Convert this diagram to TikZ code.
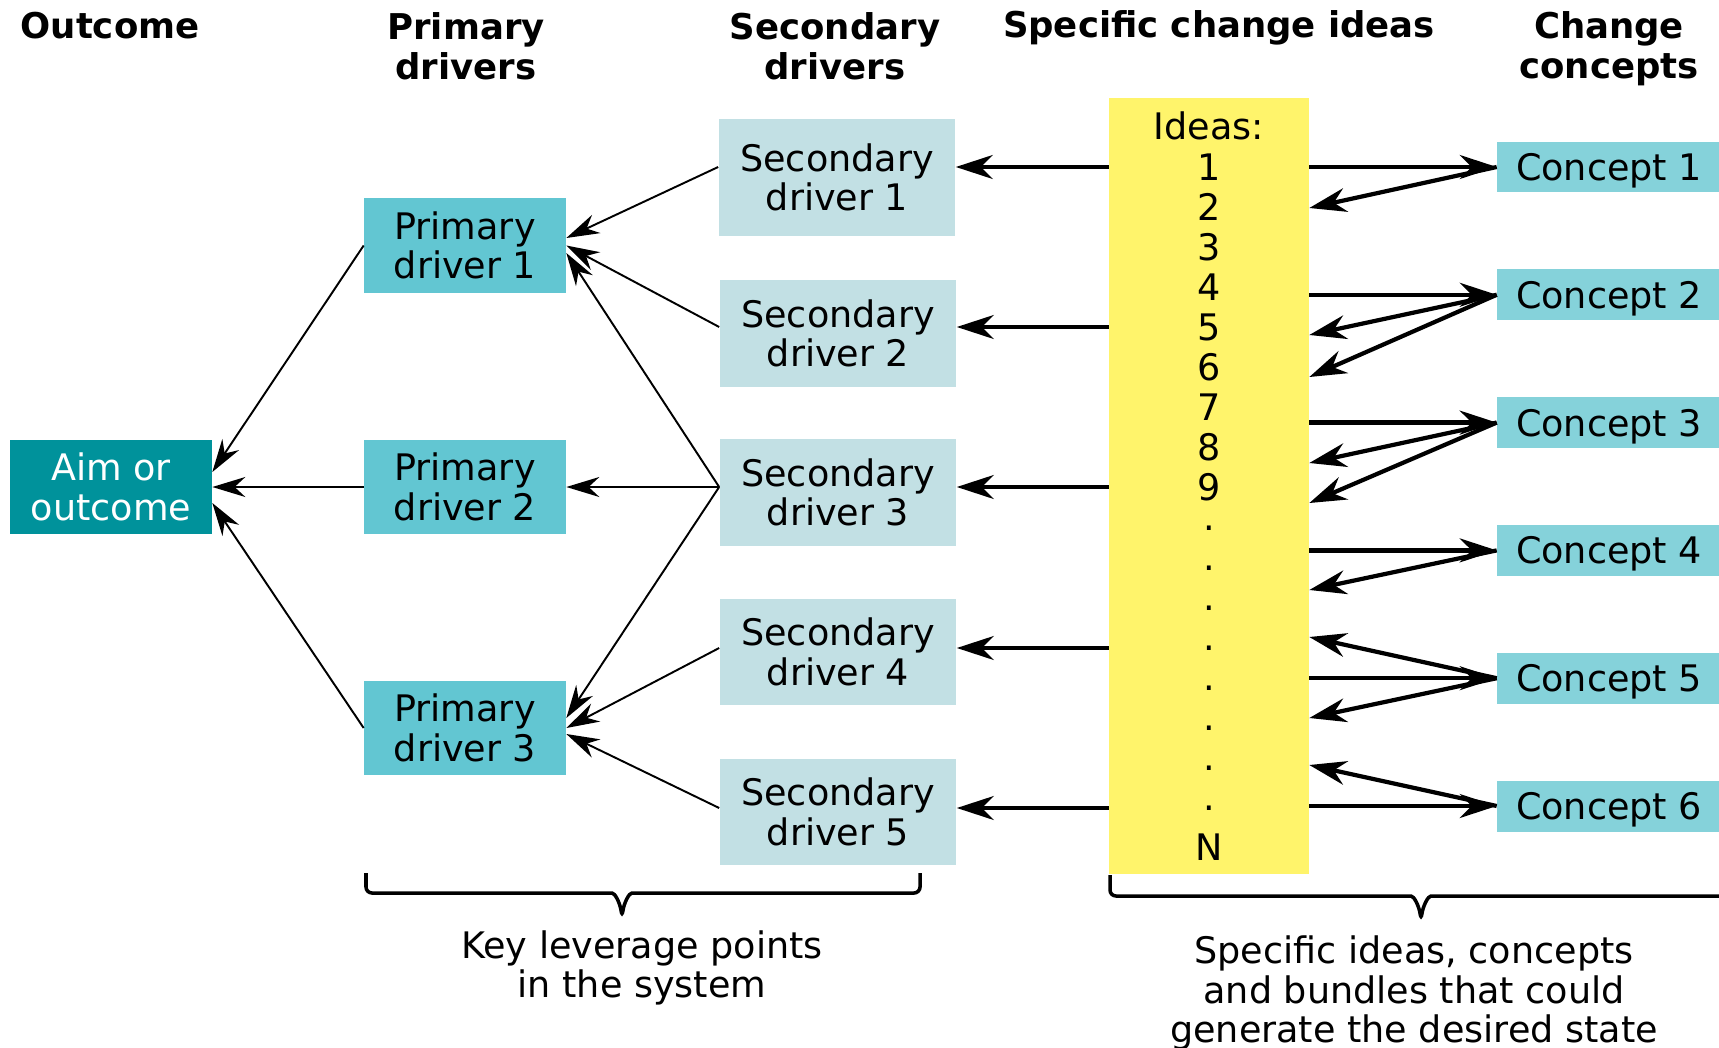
\documentclass[tikz,border=0pt]{standalone}
\usepackage{fontspec}
\setmainfont{DejaVu Sans}
\usepackage{tikz}
\usetikzlibrary{arrows.meta}
\definecolor{aimTeal}{RGB}{0,146,155}
\definecolor{primaryCyan}{RGB}{98,198,210}
\definecolor{secondaryBlue}{RGB}{194,224,228}
\definecolor{conceptCyan}{RGB}{133,210,218}
\definecolor{ideasYellow}{RGB}{255,244,107}

\tikzset{
  boxtext/.style={font=\fontsize{20.8}{22.4}\selectfont, align=center, inner sep=0pt},
  itemtext/.style={font=\fontsize{20.8}{22.4}\selectfont, inner sep=0pt},
  header/.style={font=\fontsize{20.2}{23}\selectfont\bfseries, align=center, inner sep=0pt},
  aimbox/.style={boxtext, fill=aimTeal, text=white, minimum width=4.04cm, minimum height=1.88cm},
  primarybox/.style={boxtext, fill=primaryCyan, minimum width=4.04cm, minimum height=1.9cm},
  secondarybox/.style={boxtext, fill=secondaryBlue, minimum width=4.74cm, minimum height=2.14cm},
  conceptbox/.style={itemtext, fill=conceptCyan, text depth=0pt, minimum width=4.48cm, minimum height=1.02cm},
  driverarrow/.style={-{Stealth[length=0.66cm, width=0.4cm]}, line width=1.1pt},
  ideaarrow/.style={-{Stealth[length=0.74cm, width=0.48cm]}, line width=2.4pt},
  bracket/.style={line width=2pt, rounded corners=0.12cm}
}

\begin{document}
\begin{tikzpicture}[x=0.02cm, y=-0.02cm]
  \useasboundingbox (0,0) rectangle (1719,1047);

  % Column headers
  \node[header] (hOutcome) at (110,26) {Outcome};
  \node[header] (hPrimary) at (466,46) {Primary\\drivers};
  \node[header] (hSecondary) at (835,46) {Secondary\\drivers};
  \node[header] (hIdeas) at (1219,28) {Specific change ideas};
  \node[header] (hConcepts) at (1609,48.5) {Change\\concepts};

  % Aim and primary drivers
  \node[aimbox] (aim) at (111,487) {Aim or\\outcome};
  \node[primarybox] (p1) at (465,245.5) {Primary\\driver 1};
  \node[primarybox] (p2) at (465,487) {Primary\\driver 2};
  \node[primarybox] (p3) at (465,728) {Primary\\driver 3};

  % Secondary drivers
  \node[secondarybox, minimum height=2.34cm] (s1) at (837,177.5) {Secondary\\driver 1};
  \node[secondarybox] (s2) at (838,333.5) {Secondary\\driver 2};
  \node[secondarybox] (s3) at (838,492.5) {Secondary\\driver 3};
  \node[secondarybox] (s4) at (838,652) {Secondary\\driver 4};
  \node[secondarybox] (s5) at (838,812) {Secondary\\driver 5};

  % Ideas column
  \node[fill=ideasYellow, minimum width=4cm, minimum height=15.52cm, inner sep=0pt] (ideas) at (1209,486) {};
  \node[itemtext] (ideasTitle) at (1209,126) {Ideas:};
  \foreach \k in {1,...,9}
    \node[itemtext] (i\k) at (1209,{127+40*\k}) {\k};
  \foreach \k in {1,...,8}
    \node[itemtext] (d\k) at (1209,{488+40*\k}) {.};
  \node[itemtext] (iN) at (1209,847) {N};

  % Change concepts
  \foreach \k in {1,...,6}
    \node[conceptbox] (c\k) at (1609,{167+127.8*(\k-1)}) {Concept \k};

  % Secondary -> primary -> aim
  \draw[driverarrow] (s1.west |- i1) -- ([yshift=0.15cm]p1.east);
  \draw[driverarrow] (s2.west |- i5) -- (p1.east);
  \draw[driverarrow] (s3.west |- i9) -- ([yshift=-0.15cm]p1.east);
  \draw[driverarrow] (s3.west |- i9) -- (p2.east);
  \draw[driverarrow] (s3.west |- i9) -- ([yshift=0.2cm]p3.east);
  \draw[driverarrow] (s4.west |- d4) -- (p3.east);
  \draw[driverarrow] (s5.west |- d8) -- ([yshift=-0.12cm]p3.east);
  \draw[driverarrow] (p1.west) -- ([yshift=0.3cm]aim.east);
  \draw[driverarrow] (p2.west) -- (aim.east);
  \draw[driverarrow] (p3.west) -- ([yshift=-0.32cm]aim.east);

  % Ideas -> secondary drivers
  \foreach \s/\r in {s1/i1, s2/i5, s3/i9, s4/d4, s5/d8}
    \draw[ideaarrow] (ideas.west |- \r) -- (\s.east |- \r);

  % Ideas <-> concepts
  \foreach \k in {1,...,6}
    \draw[ideaarrow] (ideas.east |- c\k) -- (c\k.west);
  \foreach \k/\y in {1/208, 2/335, 2/377, 3/463, 3/503, 4/590, 5/637, 5/718, 6/765}
    \draw[ideaarrow] (c\k.west) -- (ideas.east |- 0,\y);

  % Braces and captions
  \draw[bracket] (366,873) -- (366,893) -- (606,893) .. controls (615,893) and (620,903) .. (622,917)
    .. controls (624,903) and (629,893) .. (638,893) -- (920,893) -- (920,873);
  \draw[bracket] (1110,875) -- (1110,896) -- (1405,896) .. controls (1414,896) and (1419,906) .. (1421,920)
    .. controls (1423,906) and (1428,896) .. (1437,896) -- (1734,896) -- (1734,875);
  \node[boxtext] (leverage) at (642,968) {Key leverage points\\in the system};
  \node[boxtext] (bundles) at (1414,993) {Specific ideas, concepts\\and bundles that could\\generate the desired state};
\end{tikzpicture}
\end{document}
